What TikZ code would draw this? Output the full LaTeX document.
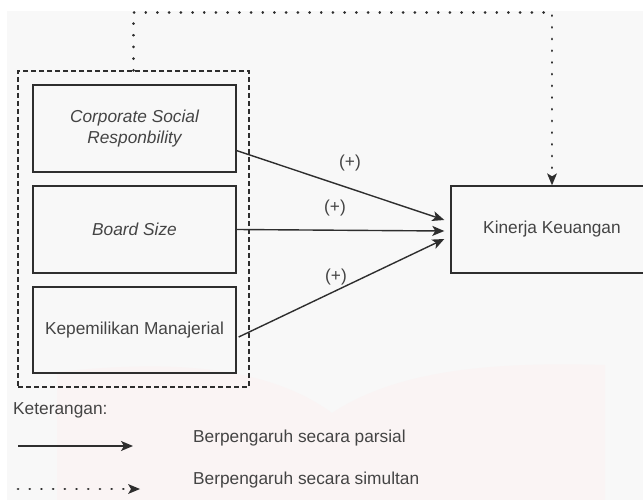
\documentclass[tikz,border=0pt]{standalone}
\usepackage{fontspec}
\setmainfont{Liberation Sans}
\usetikzlibrary{arrows.meta,calc,positioning}
\definecolor{bgcol}{HTML}{F8F8F8}
\definecolor{wmcol}{HTML}{FAF4F4}
\definecolor{linecol}{HTML}{2E2E2E}
\definecolor{txtcol}{HTML}{444444}
\tikzset{
  box/.style={draw=linecol, line width=1.4pt, rectangle, minimum width=203pt, minimum height=87pt, inner sep=0pt, text=txtcol, align=center, font=\fontsize{17.3}{21}\selectfont},
  grpbox/.style={draw=linecol, line width=1.2pt, dash pattern=on 5pt off 3pt, rectangle, inner sep=0pt},
  lbl/.style={text=txtcol, font=\fontsize{17.3}{21}\selectfont, inner sep=0pt},
  partial/.style={draw=linecol, line width=1.4pt, -{Stealth[length=12pt,width=10pt,inset=3pt]}},
  simul/.style={draw=linecol, line width=2.8pt, line cap=round, dash pattern=on 0.1pt off 11.6pt, -{Stealth[length=12pt,width=10pt,inset=3pt,line width=0pt,line cap=butt]}},
}
\begin{document}
\begin{tikzpicture}[x=1pt,y=-1pt]
\useasboundingbox (0,0) rectangle (643,500);
\fill[white] (0,0) rectangle (643,500);
\fill[bgcol] (7,11) rectangle (643,500);
% faint watermark
\fill[wmcol] (57,372) .. controls (150,362) and (260,360) .. (332,413)
  .. controls (400,368) and (500,362) .. (605,365) -- (605,500) -- (57,500) -- cycle;

\node[box, font=\fontsize{17.3}{21}\itshape\selectfont] (csr) at (134.5,128.5) {Corporate Social\\Responbility};
\node[box, font=\fontsize{17.3}{21}\itshape\selectfont] (bs) at (134.5,229.5) {Board Size};
\node[box, minimum height=86pt] (km) at (134.5,330) {Kepemilikan Manajerial};
\node[box, minimum width=202pt] (kk) at (552,229.5) {Kinerja Keuangan};
\node[grpbox, minimum width=231pt, minimum height=316pt] (grp) at (133.5,229) {};

\coordinate (c1) at ($(csr.south east)!0.25!(csr.north east)$);
\coordinate (c3) at ($(km.south east)!0.42!(km.north east)+(2,0)$);
\coordinate (t1) at ($(kk.west)+(-6,-9.5)$);
\coordinate (t2) at ($(kk.west)+(-6,1.5)$);
\coordinate (t3) at ($(kk.west)+(-6,9.5)$);

\draw[partial] (c1) -- (t1);
\draw[partial] (bs.east) -- (t2);
\draw[partial] (c3) -- (t3);

\node[lbl] (p1) at (350,163) {(+)};
\node[lbl] (p2) at (335,208) {(+)};
\node[lbl] (p3) at (336,277) {(+)};

\draw[simul] (grp.north) -- ++(0,-58) -| (kk.north);

% legend
\node[lbl, anchor=west] (ket) at (13,410) {Keterangan:};
\coordinate (l1a) at (18,446);
\coordinate (l1b) at (133,446);
\coordinate (l2a) at (18,489);
\coordinate (l2b) at (140,489);
\draw[partial] (l1a) -- (l1b);
\draw[simul] (l2a) -- (l2b);
\node[lbl, anchor=west] (lt1) at (193,438) {Berpengaruh secara parsial};
\node[lbl, anchor=west] (lt2) at (193,480) {Berpengaruh secara simultan};
\end{tikzpicture}
\end{document}
